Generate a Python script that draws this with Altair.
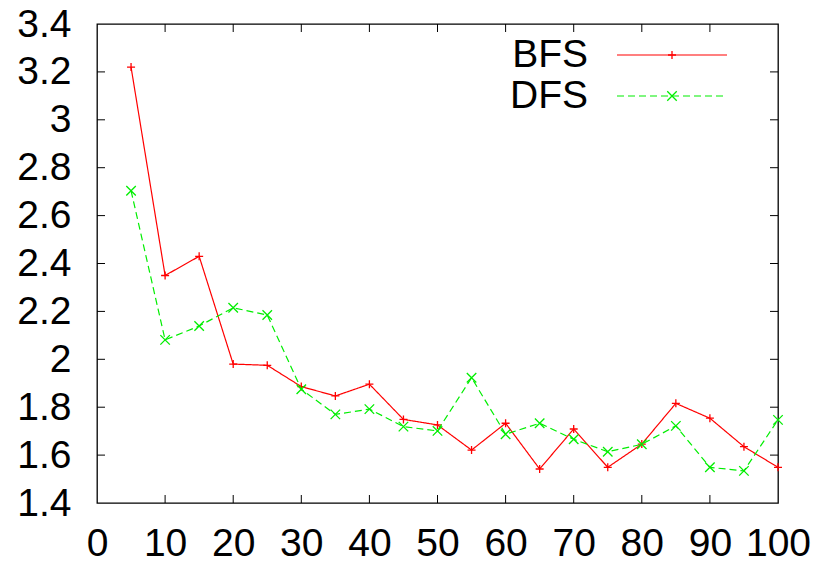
import altair as alt
import pandas as pd

# ---- data ----
x_vals = [5, 10, 15, 20, 25, 30, 35, 40, 45, 50, 55, 60, 65, 70, 75, 80, 85, 90, 95, 100]
bfs = [3.22, 2.35, 2.43, 1.98, 1.975, 1.886, 1.847, 1.896, 1.749, 1.726, 1.621, 1.733,
       1.542, 1.709, 1.549, 1.646, 1.816, 1.754, 1.635, 1.549]
dfs = [2.704, 2.081, 2.139, 2.215, 2.185, 1.875, 1.770, 1.792, 1.719, 1.701, 1.923, 1.687,
       1.733, 1.666, 1.614, 1.645, 1.722, 1.549, 1.534, 1.747]
series = ["BFS", "DFS"]
colors = ["#ff0000", "#00ee00"]
dashes = [[1, 0], [7, 4]]
shapes = ["M-1,0L1,0M0,-1L0,1", "M-1,-1L1,1M-1,1L1,-1"]
x_ticks = [0, 10, 20, 30, 40, 50, 60, 70, 80, 90, 100]
y_ticks = [1.4, 1.6, 1.8, 2.0, 2.2, 2.4, 2.6, 2.8, 3.0, 3.2, 3.4]

FONT = "Liberation Sans"
FS = 39
W, H = 681, 479

xscale = alt.Scale(domain=[0, 100], nice=False, zero=False)
yscale = alt.Scale(domain=[1.4, 3.4], nice=False, zero=False)

df = pd.DataFrame({
    "x": x_vals * 2,
    "y": bfs + dfs,
    "s": [series[0]] * len(x_vals) + [series[1]] * len(x_vals),
})

base_x = alt.X("x:Q", scale=xscale,
               axis=alt.Axis(values=x_ticks, tickSize=0, domain=False, grid=False,
                             labelFont=FONT, labelFontSize=FS, labelColor="black",
                             labelPadding=21, labelFlush=False, title=None))
base_y = alt.Y("y:Q", scale=yscale,
               axis=alt.Axis(values=y_ticks, format=".1~f", tickSize=0, domain=False,
                             grid=False, labelFont=FONT, labelFontSize=FS,
                             labelColor="black", labelPadding=26, title=None))

layers = []
for i, name in enumerate(series):
    sub = df[df["s"] == name]
    line = alt.Chart(sub).mark_line(color=colors[i], strokeWidth=1.2,
                                    strokeDash=dashes[i]).encode(x=base_x, y=base_y)
    pts = alt.Chart(sub).mark_point(shape=shapes[i], size=90 if i else 64, filled=False,
                                    color=colors[i], strokeWidth=1.3, opacity=1).encode(
        x=alt.X("x:Q", scale=xscale), y=alt.Y("y:Q", scale=yscale))
    layers += [line, pts]

# inward ticks (gnuplot style, mirrored)
xt = pd.DataFrame({"t": x_ticks[1:-1]})
yt = pd.DataFrame({"t": y_ticks[1:-1]})
for yv in [y_ticks[0], y_ticks[-1]]:
    layers.append(alt.Chart(xt).mark_tick(orient="vertical", size=16, thickness=1,
                                          color="black", clip=True, opacity=1).encode(
        x=alt.X("t:Q", scale=xscale), y=alt.datum(yv)))
for xv in [x_ticks[0], x_ticks[-1]]:
    layers.append(alt.Chart(yt).mark_tick(orient="horizontal", size=16, thickness=1,
                                          color="black", clip=True, opacity=1).encode(
        y=alt.Y("t:Q", scale=yscale), x=alt.datum(xv)))

# key (gnuplot style: label left, sample right)
leg = pd.DataFrame({"s": series})
key_y = [31, 72]
for i, name in enumerate(series):
    row = leg[leg["s"] == name]
    layers.append(alt.Chart(row).mark_text(align="right", baseline="middle", font=FONT,
                                           fontSize=FS, color="black").encode(
        text="s:N", x=alt.value(491), y=alt.value(key_y[i])))
    layers.append(alt.Chart(row).mark_rule(color=colors[i], strokeWidth=1.2,
                                           strokeDash=dashes[i]).encode(
        x=alt.value(520), x2=alt.value(630), y=alt.value(key_y[i])))
    layers.append(alt.Chart(row).mark_point(shape=shapes[i], size=90 if i else 64,
                                            filled=False, color=colors[i], strokeWidth=1.3,
                                            opacity=1).encode(
        x=alt.value(575), y=alt.value(key_y[i])))

chart = alt.layer(*layers).properties(
    width=W, height=H,
    autosize=alt.AutoSizeParams(type="none"),
    padding={"left": 89, "top": 16, "right": 35, "bottom": 60},
).configure_view(stroke="black", strokeWidth=1.3)

chart.save("out.html", embed_options={"renderer": "svg", "actions": False})
